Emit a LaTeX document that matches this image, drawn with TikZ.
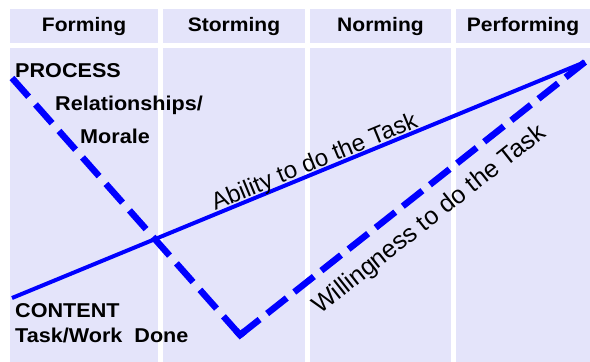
\documentclass[tikz,border=0pt]{standalone}
\usepackage{fontspec}
\usetikzlibrary{calc}
\setmainfont{Liberation Sans}
\newfontfamily\widesans[FakeStretch=1.08]{Liberation Sans}
\definecolor{cellbg}{RGB}{228,228,250}
\begin{document}
\begin{tikzpicture}[x=1pt,y=-1pt,
  cell/.style={fill=cellbg, draw=none},
  head/.style={font=\widesans\fontsize{19.5}{24}\selectfont\bfseries, inner sep=0},
  lab/.style={font=\widesans\fontsize{20}{24}\selectfont\bfseries, anchor=base west, inner sep=0},
  curvelabel/.style={text=black, inner sep=0, sloped, anchor=base},
  ability/.style={blue, line width=4pt},
  willing/.style={blue, line width=6.5pt, line join=miter},
]
\useasboundingbox (0,0) rectangle (590,362);
\fill[white] (0,0) rectangle (590,362);

% stage columns: header band and body band
\foreach \l/\r/\name/\txt in {10/158/form/Forming, 163/305/storm/Storming,
                              310/451/norm/Norming, 456/590/perf/Performing}{
  \fill[cell] (\l,9) rectangle (\r,43);
  \fill[cell] (\l,48) rectangle (\r,362);
  \node[head] (h\name) at ({(\l+\r)/2},26) {\txt};
}

% side labels
\node[lab] (process) at (15,77)  {PROCESS};
\node[lab] (rel)     at (55,110) {Relationships/};
\node[lab] (morale)  at (80,143) {Morale};
\node[lab] (content) at (15,317) {CONTENT};
\node[lab] (task)    at (15,342) {Task/Work\hspace{12pt}Done};

% curve end points
\coordinate (abilitystart) at (12,298);
\coordinate (willstart)    at (12,78);
\coordinate (trough)       at (240,335);
\coordinate (peak)         at (585,62);

% ability: one straight rising line
\draw[ability] (abilitystart) -- node[curvelabel, pos=0.535,
    font=\fontsize{24}{28}\selectfont]
  {\raisebox{3.5pt}{Ability to do the Task}} (peak);

% willingness: dashed dip, each leg starting and ending on a dash
\draw[willing, dash pattern=on 25pt off 10.4pt] (willstart) -- (trough);
\draw[willing, dash pattern=on 25pt off 9.6pt] (trough) -- node[curvelabel, pos=0.5,
    font=\fontsize{25}{30}\selectfont]
  {\raisebox{-34pt}{Willingness to do the Task}} (peak);
% mitred corner at the bottom of the dip
\draw[willing] ($(trough)!6pt!(willstart)$) -- (trough) -- ($(trough)!6pt!(peak)$);
\end{tikzpicture}
\end{document}
